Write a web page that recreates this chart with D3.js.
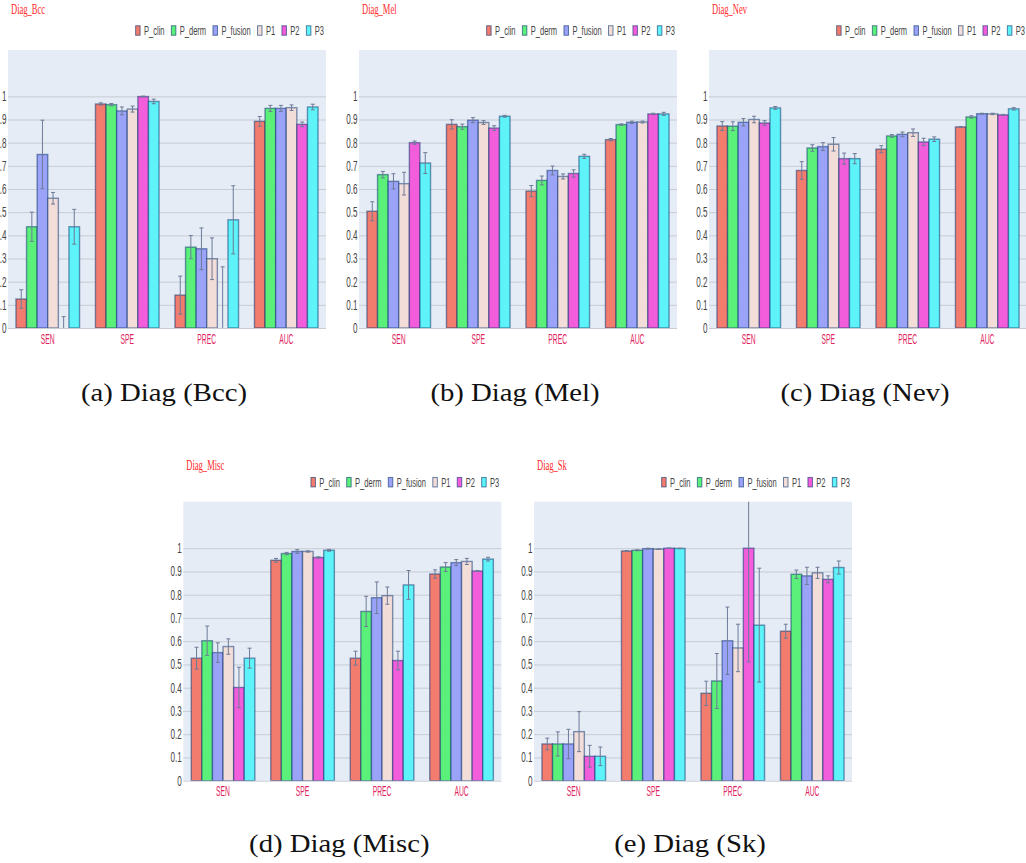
<!DOCTYPE html>
<html>
<head>
<meta charset="utf-8">
<script src="https://cdn.jsdelivr.net/npm/d3@7"></script>
<style>
  html, body { margin: 0; padding: 0; background: #fff; }
  svg { display: block; }
</style>
</head>
<body>
<svg id="fig" width="1026" height="863"></svg>
<script>
// ---- data ---------------------------------------------------------------
const categories = ["SEN", "SPE", "PREC", "AUC"];
const seriesNames = ["P_clin", "P_derm", "P_fusion", "P1", "P2", "P3"];
const tickValues = [0, 0.1, 0.2, 0.3, 0.4, 0.5, 0.6, 0.7, 0.8, 0.9, 1];

// rows: SEN, SPE, PREC, AUC; columns: P_clin, P_derm, P_fusion, P1, P2, P3
const bccMean = [
  [0.125, 0.437, 0.749, 0.560, 0.000, 0.437],
  [0.967, 0.964, 0.937, 0.945, 0.999, 0.978],
  [0.142, 0.349, 0.342, 0.299, 0.000, 0.467],
  [0.892, 0.948, 0.948, 0.951, 0.879, 0.954]
];
const bccErr = [
  [0.040, 0.063, 0.148, 0.025, 0.049, 0.075],
  [0.005, 0.005, 0.017, 0.013, 0.002, 0.010],
  [0.082, 0.050, 0.090, 0.090, 0.264, 0.147],
  [0.021, 0.013, 0.013, 0.012, 0.010, 0.012]
];

const melMean = [
  [0.504, 0.662, 0.633, 0.623, 0.800, 0.712],
  [0.879, 0.869, 0.897, 0.887, 0.863, 0.914],
  [0.591, 0.637, 0.680, 0.654, 0.667, 0.741],
  [0.813, 0.878, 0.888, 0.889, 0.924, 0.924]
];
const melErr = [
  [0.041, 0.014, 0.033, 0.049, 0.007, 0.045],
  [0.020, 0.011, 0.011, 0.008, 0.010, 0.004],
  [0.024, 0.019, 0.019, 0.011, 0.016, 0.009],
  [0.005, 0.003, 0.005, 0.004, 0.003, 0.007]
];

const nevMean = [
  [0.872, 0.871, 0.888, 0.900, 0.885, 0.950],
  [0.680, 0.777, 0.783, 0.793, 0.731, 0.731],
  [0.772, 0.829, 0.836, 0.843, 0.803, 0.815],
  [0.868, 0.911, 0.925, 0.924, 0.920, 0.946]
];
const nevErr = [
  [0.019, 0.019, 0.016, 0.014, 0.010, 0.006],
  [0.038, 0.014, 0.017, 0.029, 0.024, 0.022],
  [0.015, 0.006, 0.010, 0.016, 0.016, 0.010],
  [0.002, 0.005, 0.002, 0.003, 0.002, 0.005]
];

const miscMean = [
  [0.527, 0.602, 0.551, 0.577, 0.401, 0.527],
  [0.948, 0.977, 0.986, 0.986, 0.960, 0.991],
  [0.527, 0.728, 0.787, 0.796, 0.517, 0.842],
  [0.889, 0.919, 0.938, 0.943, 0.902, 0.953]
];
const miscErr = [
  [0.047, 0.063, 0.042, 0.033, 0.087, 0.043],
  [0.008, 0.005, 0.008, 0.003, 0.003, 0.004],
  [0.030, 0.065, 0.068, 0.037, 0.040, 0.062],
  [0.018, 0.019, 0.013, 0.013, 0.002, 0.008]
];

const skMean = [
  [0.158, 0.158, 0.158, 0.211, 0.105, 0.105],
  [0.988, 0.991, 0.998, 0.996, 1.000, 0.999],
  [0.376, 0.429, 0.602, 0.571, 1.000, 0.669],
  [0.643, 0.888, 0.881, 0.894, 0.866, 0.917]
];
const skErr = [
  [0.025, 0.052, 0.063, 0.086, 0.047, 0.040],
  [0.002, 0.002, 0.002, 0.001, 0.001, 0.001],
  [0.052, 0.118, 0.145, 0.102, 0.489, 0.245],
  [0.030, 0.018, 0.037, 0.024, 0.015, 0.028]
];

const panelTitles = ["Diag_Bcc", "Diag_Mel", "Diag_Nev", "Diag_Misc", "Diag_Sk"];
const panelCaptions = ["(a) Diag (Bcc)", "(b) Diag (Mel)", "(c) Diag (Nev)", "(d) Diag (Misc)", "(e) Diag (Sk)"];
const panelMeans = [bccMean, melMean, nevMean, miscMean, skMean];
const panelErrs = [bccErr, melErr, nevErr, miscErr, skErr];

// ---- layout & style -----------------------------------------------------
const seriesColors = ["#f27c6e", "#5af07a", "#9aa3f7", "#f3ddd8", "#f25ddc", "#5df3f8"];
const layouts = [
  { x0: 8,     x1: 326,    top: 50,    bottom: 328,   titleY: 14,    captionY: 400.5 },
  { x0: 359,   x1: 677,    top: 50,    bottom: 328,   titleY: 14,    captionY: 400.5 },
  { x0: 709,   x1: 1027,   top: 50,    bottom: 328,   titleY: 14,    captionY: 400.5 },
  { x0: 183.3, x1: 501.3,  top: 501.7, bottom: 780.7, titleY: 469.5, captionY: 852 },
  { x0: 534,   x1: 852,    top: 501.7, bottom: 780.7, titleY: 469.5, captionY: 852 }
];
const sansNarrow = "'Liberation Sans', Arial, sans-serif";
const serif = "'Liberation Serif', 'Times New Roman', serif";

const svg = d3.select("#fig");

layouts.forEach((L, pi) => {
  const mean = panelMeans[pi];
  const err = panelErrs[pi];
  const g = svg.append("g");

  const y = d3.scaleLinear().domain([0, 1.2]).range([L.bottom, L.top]);
  const x = d3.scaleBand().domain(categories).range([L.x0, L.x1])
    .paddingInner(0.2).paddingOuter(0.1);
  const xs = d3.scaleBand().domain(seriesNames).range([0, x.bandwidth()]);

  // plot background
  g.append("rect")
    .attr("x", L.x0).attr("y", L.top)
    .attr("width", L.x1 - L.x0).attr("height", L.bottom - L.top)
    .attr("fill", "#e5ecf6");

  // grid lines and y tick labels
  const yAxis = d3.axisLeft(y).tickValues(tickValues)
    .tickSize(-(L.x1 - L.x0)).tickFormat(d3.format("~g"));
  const ga = g.append("g").attr("transform", `translate(${L.x0},0)`).call(yAxis);
  ga.select(".domain").remove();
  ga.selectAll(".tick line").attr("stroke", "#c8ccd3").attr("stroke-width", 1);
  ga.selectAll(".tick text")
    .attr("x", 0)
    .attr("transform", "translate(-1.5,0) scale(0.58,1)")
    .attr("fill", "#444")
    .style("font-family", sansNarrow)
    .style("font-size", "14px");

  // clip region for bars and error bars
  const clipId = "clip" + pi;
  svg.append("clipPath").attr("id", clipId)
    .append("rect")
    .attr("x", L.x0).attr("y", L.top)
    .attr("width", L.x1 - L.x0).attr("height", L.bottom - L.top);

  const rows = categories.flatMap((c, ci) =>
    seriesNames.map((s, si) => ({ c, s, si, v: mean[ci][si], e: err[ci][si] })));

  const plot = g.append("g").attr("clip-path", `url(#${clipId})`);

  plot.selectAll("rect.bar")
    .data(rows.filter(d => d.v > 0))
    .join("rect")
    .attr("class", "bar")
    .attr("x", d => x(d.c) + xs(d.s))
    .attr("y", d => y(d.v))
    .attr("width", xs.bandwidth())
    .attr("height", d => y(0) - y(d.v))
    .attr("fill", d => seriesColors[d.si])
    .attr("stroke", "rgba(8,48,107,0.5)")
    .attr("stroke-width", 1.4);

  // error bars
  const eb = plot.selectAll("g.err")
    .data(rows)
    .join("g")
    .attr("class", "err")
    .attr("stroke", "#6e7b97")
    .attr("stroke-width", 1)
    .attr("transform", d => `translate(${x(d.c) + xs(d.s) + xs.bandwidth() / 2},0)`);
  eb.append("line")
    .attr("y1", d => y(d.v - d.e)).attr("y2", d => y(d.v + d.e));
  eb.append("line")
    .attr("x1", -2).attr("x2", 2)
    .attr("y1", d => y(d.v + d.e)).attr("y2", d => y(d.v + d.e));
  eb.append("line")
    .attr("x1", -2).attr("x2", 2)
    .attr("y1", d => y(d.v - d.e)).attr("y2", d => y(d.v - d.e));

  // category labels
  const xAxis = d3.axisBottom(x).tickSize(0).tickPadding(0);
  const gx = g.append("g").attr("transform", `translate(0,${L.bottom})`).call(xAxis);
  gx.select(".domain").remove();
  gx.selectAll(".tick text")
    .attr("y", 0).attr("dy", null)
    .attr("transform", "translate(0,15.5) scale(0.45,1)")
    .attr("fill", "#e0245e")
    .style("font-family", sansNarrow)
    .style("font-size", "15px");

  // panel title
  g.append("text")
    .attr("transform", `translate(${L.x0 + 3},${L.titleY}) scale(0.61,1)`)
    .attr("fill", "#ff2a2a")
    .style("font-family", serif)
    .style("font-size", "14px")
    .text(panelTitles[pi]);

  // legend, right-aligned above the plot
  const legY = L.top - 19.5;
  const leg = g.append("g");
  const items = leg.selectAll("g.item").data(seriesNames).join("g").attr("class", "item");
  items.append("rect")
    .attr("width", 4.5).attr("height", 9.5)
    .attr("y", legY - 4.75)
    .attr("fill", (d, i) => seriesColors[i])
    .attr("stroke", "rgba(8,48,107,0.6)")
    .attr("stroke-width", 1);
  const labels = items.append("text")
    .attr("fill", "#444")
    .style("font-family", sansNarrow)
    .style("font-size", "13px")
    .attr("dy", "0.35em")
    .text(d => d);
  const tScale = 0.58;
  const widths = labels.nodes().map(n => n.getComputedTextLength() * tScale);
  const symW = 4.5, symGap = 3.9, itemGap = 6.8;
  const total = d3.sum(widths) + seriesNames.length * (symW + symGap) + (seriesNames.length - 1) * itemGap;
  let cx = L.x1 - 2 - total;
  items.each(function (d, i) {
    const it = d3.select(this);
    it.select("rect").attr("x", cx);
    it.select("text").attr("transform", `translate(${cx + symW + symGap},${legY}) scale(${tScale},1)`);
    cx += symW + symGap + widths[i] + itemGap;
  });

  // subfigure caption
  svg.append("text")
    .attr("transform", `translate(${(L.x0 + L.x1) / 2 - 3},${L.captionY}) scale(1.15,1)`)
    .attr("text-anchor", "middle")
    .attr("fill", "#111")
    .style("font-family", serif)
    .style("font-size", "25px")
    .text(panelCaptions[pi]);
});
</script>
</body>
</html>
